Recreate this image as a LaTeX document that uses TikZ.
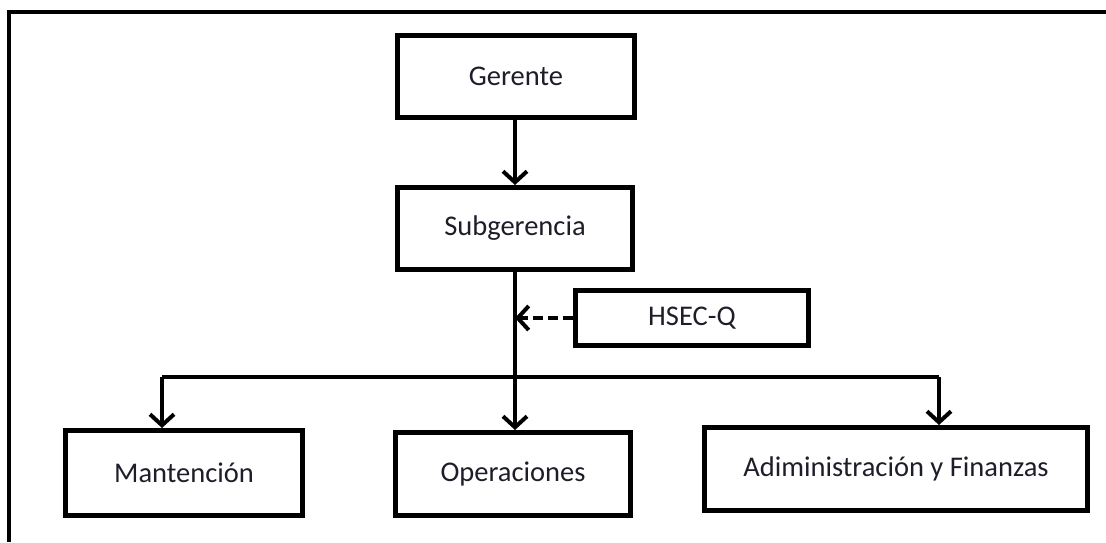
\documentclass[tikz,border=0pt]{standalone}
\usepackage{fontspec}
\setmainfont{Carlito}
\usetikzlibrary{arrows.meta}
\definecolor{txt}{HTML}{1E1E2A}
\tikzset{
  box/.style={draw=black, line width=5pt, rectangle, fill=white, inner sep=0pt,
    text=txt, font=\fontsize{28.5}{34}\selectfont},
  conn/.style={draw=black, line width=4pt},
  arr/.style={conn, -{Straight Barb[length=11pt,width=24pt]}},
  darr/.style={arr, dash pattern=on 10pt off 5pt},
}
\begin{document}
\begin{tikzpicture}[x=1pt,y=-1pt]
\useasboundingbox (0,0) rectangle (1106,542);
% frame
\draw[line width=4pt] (9,542) -- (9,12) -- (1106,12);
% boxes
\node[box, minimum width=237pt, minimum height=82pt] (ger) at (516,76.5) {Gerente};
\node[box, minimum width=235pt, minimum height=82pt] (sub) at (515,228.5) {Subgerencia};
\node[box, minimum width=233pt, minimum height=55pt] (hsec) at (692,318) {HSEC-Q};
\node[box, minimum width=237pt, minimum height=85pt] (man) at (184,473) {Mantención};
\node[box, minimum width=235pt, minimum height=83pt] (ope) at (513,474) {Operaciones};
\node[box, minimum width=383pt, minimum height=83pt] (adm) at (896,469) {Adiministración y Finanzas};
% coordinates
\coordinate (dash) at (515,318);
\coordinate (bl) at (162,377);
\coordinate (bm) at (515,377);
\coordinate (br) at (939,377);
% connectors
\draw[arr] (ger.south -| bm) -- (sub.north -| bm);
\draw[conn] (sub.south -| bm) -- (bm);
\draw[darr] (hsec.west) -- (dash);
\draw[conn] (bl) -- (br);
\draw[arr] (bl) -- (man.north -| bl);
\draw[arr] (bm) -- (ope.north -| bm);
\draw[arr] (br) -- (adm.north -| br);
\end{tikzpicture}
\end{document}
